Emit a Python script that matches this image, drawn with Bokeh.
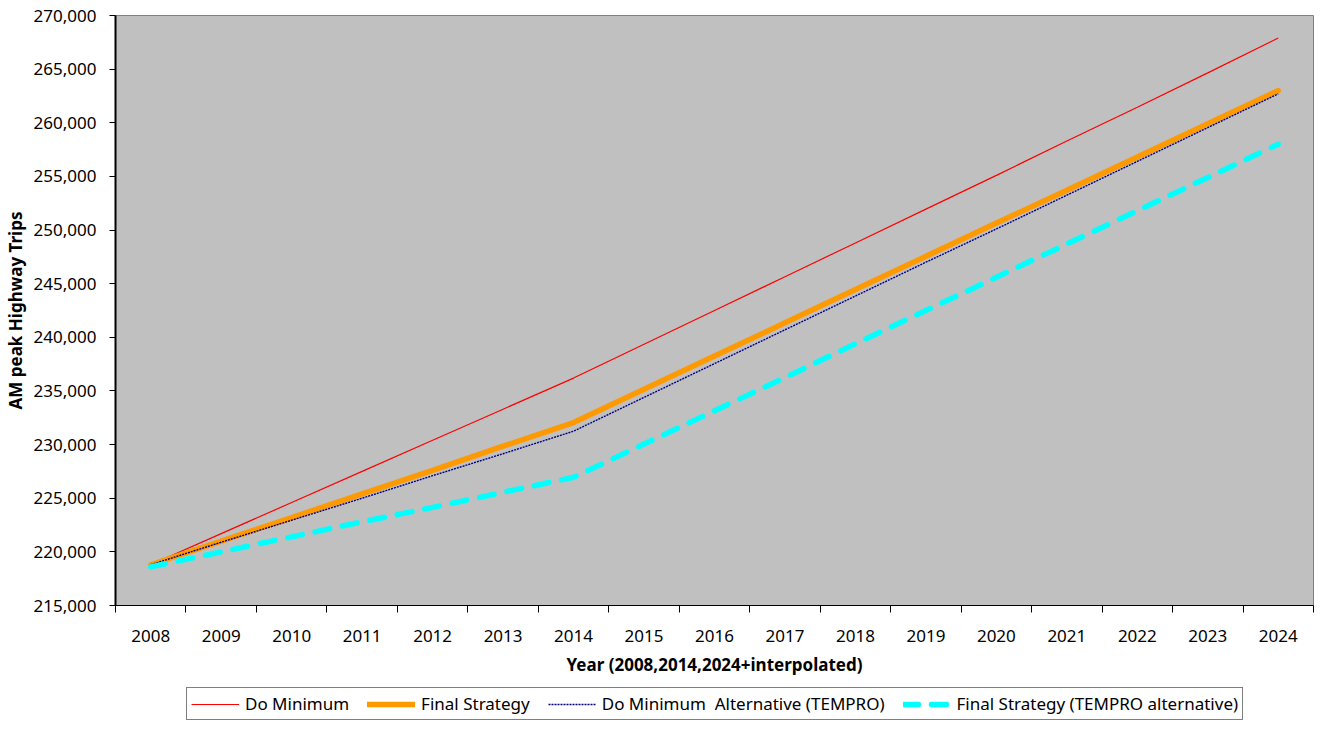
from bokeh.plotting import figure
from bokeh.layouts import column
from bokeh.models import (Range1d, FixedTicker, NumeralTickFormatter, Legend, LegendItem,
                          ColumnDataSource)
from bokeh.embed import file_html
from bokeh.resources import INLINE

years = ["2008", "2009", "2010", "2011", "2012", "2013", "2014", "2015", "2016",
         "2017", "2018", "2019", "2020", "2021", "2022", "2023", "2024"]

do_minimum = [218800, 221700, 224600, 227500, 230400, 233300, 236200, 239350, 242500,
              245650, 248800, 251950, 255100, 258300, 261450, 264650, 267900]
final_strategy = [218800, 221000, 223200, 225400, 227600, 229850, 232050, 235150, 238250,
                  241350, 244450, 247550, 250650, 253700, 256800, 259900, 263000]
do_min_alt = [218800, 220900, 222950, 225000, 227100, 229150, 231250, 234400, 237550,
              240700, 243850, 247000, 250100, 253250, 256400, 259550, 262700]
final_alt = [218600, 220000, 221400, 222800, 224150, 225550, 226950, 230050, 233150,
             236250, 239400, 242500, 245600, 248700, 251800, 254900, 258000]

series_labels = ["Do Minimum", "Final Strategy", "Do Minimum  Alternative (TEMPRO)",
                 "Final Strategy (TEMPRO alternative)"]

y_ticks = list(range(215000, 270001, 5000))

xpos = [i + 0.5 for i in range(len(years))]
src = ColumnDataSource(dict(x=xpos, dm=do_minimum, fs=final_strategy, dma=do_min_alt, fa=final_alt))
cols = ["dm", "fs", "dma", "fa"]

FONT = "Noto Sans"

STYLES = [
    dict(line_color="#FF0000", line_width=1.2),
    dict(line_color="#FF9900", line_width=5.5, line_cap="round"),
    dict(line_color="#000080", line_width=1.4, line_dash="2 1"),
    dict(line_color="#00FFFF", line_width=5.5, line_dash="15 13", line_cap="round"),
]

p = figure(width=1315, height=681, output_backend="svg", toolbar_location=None,
           x_range=Range1d(0, len(years)), y_range=Range1d(215000, 270000),
           min_border_left=106, min_border_right=2, min_border_top=15, min_border_bottom=76)

p.background_fill_color = "#C0C0C0"
p.border_fill_color = "white"
p.outline_line_color = "#808080"
p.outline_line_width = 1
p.xgrid.visible = False
p.ygrid.visible = False

for col, st in zip(cols, STYLES):
    p.line("x", col, source=src, **st)

# x axis
xa = p.xaxis[0]
xa.ticker = FixedTicker(ticks=xpos, minor_ticks=list(range(len(years) + 1)))
xa.major_label_overrides = {xv: yr for xv, yr in zip(xpos, years)}
xa.major_tick_line_color = None
xa.major_tick_out = 0
xa.major_tick_in = 0
xa.minor_tick_line_color = "black"
xa.minor_tick_out = 7
xa.minor_tick_in = 0
xa.major_label_standoff = 17
xa.major_label_text_font = FONT
xa.major_label_text_font_size = "17px"
xa.major_label_text_color = "black"
xa.axis_line_color = "black"
xa.axis_line_width = 1.2
xa.axis_label = "Year (2008,2014,2024+interpolated)"
xa.axis_label_text_font = FONT
xa.axis_label_text_font_style = "bold"
xa.axis_label_text_font_size = "17px"
xa.axis_label_standoff = 8
xa.axis_label_text_color = "black"

# y axis
ya = p.yaxis[0]
ya.ticker = FixedTicker(ticks=y_ticks)
ya.formatter = NumeralTickFormatter(format="0,0")
ya.minor_tick_line_color = None
ya.major_tick_out = 6
ya.major_tick_in = 0
ya.major_tick_line_color = "black"
ya.major_label_standoff = 13
ya.major_label_text_font = FONT
ya.major_label_text_font_size = "17px"
ya.major_label_text_color = "black"
ya.axis_line_color = "black"
ya.axis_line_width = 2
ya.axis_label = "AM peak Highway Trips"
ya.axis_label_text_font = FONT
ya.axis_label_text_font_style = "bold"
ya.axis_label_text_font_size = "17px"
ya.axis_label_standoff = 4
ya.axis_label_text_color = "black"

# legend strip (same series, drawn outside this strip's visible range; only the legend shows)
lg = figure(width=1315, height=40, output_backend="svg", toolbar_location=None,
            x_axis_type=None, y_axis_type=None,
            x_range=Range1d(100, 101), y_range=Range1d(0, 1),
            min_border=0, min_border_left=0, min_border_right=0, min_border_top=0,
            min_border_bottom=0)
lg.grid.visible = False
lg.outline_line_color = None
lg.background_fill_color = "white"
items = []
for lab, col, st in zip(series_labels, cols, STYLES):
    r = lg.line("x", col, source=src, **st)
    items.append(LegendItem(label=lab, renderers=[r]))

legend = Legend(items=items, orientation="horizontal", location=(71, 1))
legend.glyph_width = 48
legend.glyph_height = 18
legend.label_height = 18
legend.label_standoff = 6
legend.spacing = 18
legend.padding = 4
legend.margin = 0
legend.border_line_color = "black"
legend.border_line_width = 1
legend.background_fill_color = "white"
legend.background_fill_alpha = 1
legend.label_text_font = FONT
legend.label_text_font_size = "17px"
legend.label_text_color = "black"
lg.add_layout(legend, "center")

layout = column(p, lg, spacing=0)
open("out.html", "w").write(file_html(layout, INLINE))
